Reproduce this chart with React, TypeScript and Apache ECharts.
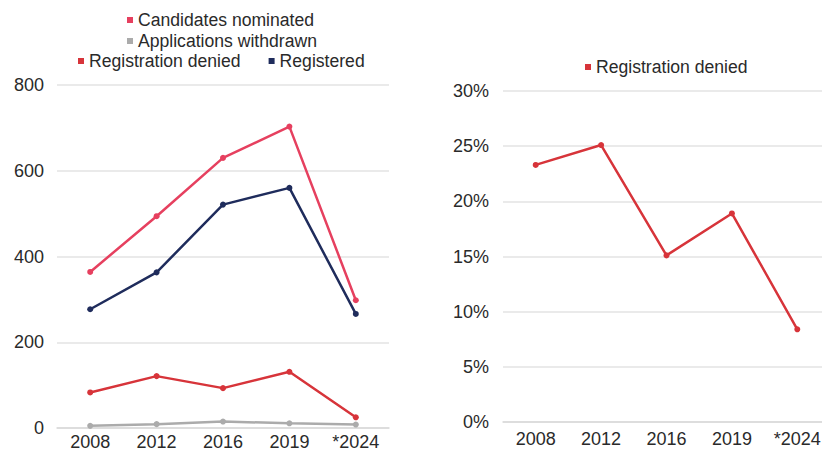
import React, { useEffect, useRef } from "react";
import * as echarts from "echarts";

const years = ["2008", "2012", "2016", "2019", "*2024"];
const candidatesNominated = [364, 494, 630, 703, 298];
const applicationsWithdrawn = [5, 9, 15, 11, 8];
const registrationDenied = [83, 121, 93, 131, 25];
const registered = [277, 363, 521, 560, 266];
const deniedShare = [23.3, 25.1, 15.1, 18.9, 8.4];
const countTicks = [0, 800, 200];
const shareTicks = [0, 30, 5];

const FONT = "'Liberation Sans', Arial, Helvetica, sans-serif";
const TEXT = "#2a2a2a";
const C_CAND = "#e6405f";
const C_WITH = "#ababab";
const C_DEN = "#d7343a";
const C_REG = "#1f2c5c";

export default function App() {
  const ref = useRef<HTMLDivElement>(null);
  useEffect(() => {
    if (!ref.current) return;
    const chart = echarts.init(ref.current, undefined, { renderer: "svg" });
    const legendText = { fontSize: 17.6, color: TEXT, fontFamily: FONT };
    const legendBase = {
      orient: "horizontal" as const,
      icon: "rect",
      itemWidth: 6,
      itemHeight: 6,
      itemGap: 28,
      padding: 0,
      textStyle: legendText,
      selectedMode: false,
    };
    const axisLabel = { fontSize: 18, color: TEXT, fontFamily: FONT };
    const lineSeries = (name: string, data: number[], color: string, idx: number) => ({
      name,
      type: "line" as const,
      data,
      xAxisIndex: idx,
      yAxisIndex: idx,
      symbol: "circle",
      symbolSize: 6,
      lineStyle: { color, width: 2.5 },
      itemStyle: { color },
      z: 3,
    });
    chart.setOption({
      animation: false,
      backgroundColor: "#ffffff",
      textStyle: { fontFamily: FONT },
      legend: [
        { ...legendBase, data: ["Candidates nominated"], left: 127, top: 11 },
        { ...legendBase, data: ["Applications withdrawn"], left: 127, top: 32 },
        { ...legendBase, data: ["Registration denied", "Registered"], left: 78, top: 52 },
        { ...legendBase, data: ["Registration denied"], left: 585, top: 58 },
      ],
      grid: [
        { left: 57, right: 433, top: 85, bottom: 23, containLabel: false, outerBoundsMode: "none" },
        { left: 503, right: -8, top: 91, bottom: 29, containLabel: false, outerBoundsMode: "none" },
      ],
      xAxis: [0, 1].map((i) => ({
        type: "category",
        gridIndex: i,
        data: years,
        boundaryGap: true,
        axisLine: { show: true, lineStyle: { color: "#d9d9d9", width: 1.5 } },
        axisTick: { show: false },
        axisLabel: { ...axisLabel, lineHeight: 16, margin: i === 0 ? 6 : 9 },
      })),
      yAxis: [
        {
          type: "value",
          gridIndex: 0,
          min: countTicks[0],
          max: countTicks[1],
          interval: countTicks[2],
          axisLine: { show: false },
          axisTick: { show: false },
          axisLabel: { ...axisLabel, margin: 13 },
          splitLine: { lineStyle: { color: "#e3e3e3", width: 1.5 } },
        },
        {
          type: "value",
          gridIndex: 1,
          min: shareTicks[0],
          max: shareTicks[1],
          interval: shareTicks[2],
          axisLine: { show: false },
          axisTick: { show: false },
          axisLabel: { ...axisLabel, margin: 14, formatter: "{value}%" },
          splitLine: { lineStyle: { color: "#e3e3e3", width: 1.5 } },
        },
      ],
      series: [
        lineSeries("Candidates nominated", candidatesNominated, C_CAND, 0),
        lineSeries("Applications withdrawn", applicationsWithdrawn, C_WITH, 0),
        lineSeries("Registration denied", registrationDenied, C_DEN, 0),
        lineSeries("Registered", registered, C_REG, 0),
        lineSeries("Registration denied", deniedShare, C_DEN, 1),
      ],
    });
    return () => chart.dispose();
  }, []);
  return <div ref={ref} style={{ width: 822, height: 451, position: "absolute", left: 0, top: 0 }} />;
}
